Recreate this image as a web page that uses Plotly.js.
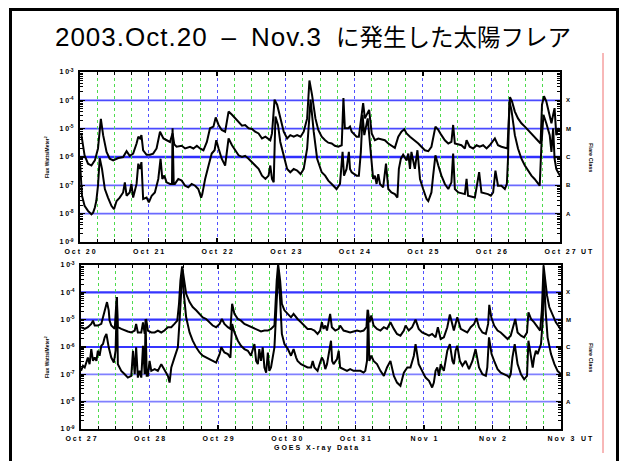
<!DOCTYPE html>
<html>
<head>
<meta charset="utf-8">
<script src="https://cdn.plot.ly/plotly-3.0.1.min.js"></script>
<style>html,body{margin:0;padding:0;background:#fff;}#chart{width:622px;height:461px;}</style>
</head>
<body>
<div id="chart"></div>
<script>
// ---------- labels ----------
const titleLatin = "2003.Oct.20\u2002–\u2002Nov.3";
const titleJapanese = "に発生した太陽フレア";
const dayLabels1 = ["Oct 20","Oct 21","Oct 22","Oct 23","Oct 24","Oct 25","Oct 26","Oct 27"];
const dayLabels2 = ["Oct 27","Oct 28","Oct 29","Oct 30","Oct 31","Nov 1","Nov 2","Nov 3"];
const dayHours = [0,24,48,72,96,120,144,168];
const decadeValues = [1e-9,1e-8,1e-7,1e-6,1e-5,1e-4,1e-3];
const decadeLabels = ["-9","-8","-7","-6","-5","-4","-3"];
const classNames = ["X","M","C","B","A"];
const classFlux = [1e-4,1e-5,1e-6,1e-7,1e-8];
const yTitle = "Flux Watts/Meter<sup>2</sup>";
const classTitle = "Flare Class";
const xTitle = "GOES X-ray Data";

// ---------- panel 1 (Oct 20 - Oct 27), hours from Oct 20 00UT ----------
const p1LongT = [0.5,1.6,2.8,4.0,5.2,6.3,7.3,8.1,9.3,10.4,11.6,13.4,15.1,16.3,17.4,18.6,19.8,20.4,21.0,21.5,22.1,23.3,24.5,25.6,26.8,28.0,29.2,30.3,31.5,32.4,33.0,33.8,35.6,36.8,38.5,39.7,40.9,42.0,43.2,44.4,45.5,46.7,47.5,48.5,49.6,50.8,52.0,53.2,54.3,55.5,56.7,57.8,59.0,60.2,61.3,62.5,63.7,64.9,66.0,66.6,67.2,68.1,69.0,70.1,71.3,72.5,73.6,74.8,76.0,77.2,78.3,79.5,80.3,81.2,82.4,83.4,
84.6,85.8,86.9,88.1,89.2,90.4,91.6,92.2,92.7,93.9,94.5,95.1,96.8,97.6,98.6,99.1,99.7,100.7,101.2,102.1,103.2,104.4,105.6,106.7,107.9,109.0,110.2,111.4,112.5,113.5,114.3,115.5,117.2,118.4,119.5,120.7,121.9,123.0,124.4,125.4,126.5,127.7,128.9,130.0,130.6,131.2,133.5,134.7,135.3,136.4,137.6,138.8,139.9,141.1,142.3,143.4,145.2,146.3,147.5,149.6,150.1,150.5,151.2,152.2,153.3,154.5,155.7,156.8,158.0,159.1,160.3,161.2,161.7,162.4,163.2,164.0,165.0,165.6,166.1,166.7,167.3,168.0];
const p1LongF = [5.9e-6,1.15e-6,5.8e-7,5.0e-7,7.6e-7,2.0e-6,2.2e-5,5.9e-6,1.51e-6,8.7e-7,7.6e-7,9.2e-7,1.0e-6,1.6e-6,1.1e-6,1.32e-6,3.0e-6,5.2e-6,4.5e-6,5.9e-6,1.73e-6,1.2e-6,1.2e-6,1.32e-6,2.0e-6,7.8e-6,4.5e-6,3.9e-6,3.4e-6,6.8e-6,2.8e-6,2.3e-6,2.5e-6,2.0e-6,2.3e-6,2.0e-6,2.5e-6,2.0e-6,1.73e-6,3.4e-6,1.03e-5,1.18e-5,2.5e-5,1.35e-5,9.0e-6,7.8e-6,4.0e-5,3.1e-5,2.3e-5,1.8e-5,1.28e-5,1.35e-5,1.03e-5,9.8e-6,7.8e-6,6.8e-6,4.5e-6,5.2e-6,4.5e-6,3.9e-6,6.8e-6,1.06e-4,7.0e-5,2.3e-5,7.8e-6,4.5e-6,5.9e-6,5.2e-6,5.9e-6,5.2e-6,7.8e-6,2.3e-5,5.0e-4,1.6e-4,2.3e-5,9.0e-6,
5.2e-6,3.9e-6,3.2e-6,3.0e-6,2.5e-6,2.3e-6,2.6e-6,1.2e-4,1.03e-5,1.03e-5,1.18e-5,7.8e-6,5.2e-6,5.2e-6,3.1e-5,8.0e-5,2.3e-5,4.0e-5,4.6e-5,6.8e-6,3.9e-6,4.5e-6,4.2e-6,3.9e-6,3.0e-6,2.6e-6,2.1e-6,5.2e-6,7.8e-6,9.5e-6,6.8e-6,5.2e-6,3.9e-6,3.0e-6,2.3e-6,1.73e-6,1.6e-6,2.3e-6,1.18e-5,9.0e-6,5.9e-6,3.9e-6,3.0e-6,3.4e-6,1.35e-5,3.0e-6,2.6e-6,2.0e-6,3.9e-6,2.3e-6,2.0e-6,2.6e-6,2.3e-6,2.6e-6,2.0e-6,2.6e-6,4.5e-6,2.6e-6,2.3e-6,2.0e-6,2.3e-5,1.3e-4,9.2e-5,4.0e-5,2.3e-5,1.55e-5,1.18e-5,9.0e-6,6.8e-6,5.2e-6,3.9e-6,3.0e-6,7.0e-5,1.4e-4,9.2e-5,4.0e-5,1.55e-5,3.1e-5,5.3e-5,5.9e-6,1.03e-5,7.8e-6];

const p1ShortT = [0.0,0.7,1.6,2.8,4.0,4.6,5.2,5.7,6.3,6.9,7.7,8.7,9.8,11.0,11.9,12.8,13.9,15.1,15.7,16.3,17.4,18.0,18.6,19.8,20.4,21.0,21.5,22.1,23.3,24.1,25.1,26.2,27.4,28.2,28.8,29.5,30.3,31.5,32.2,32.4,32.8,33.2,34.4,35.6,36.8,37.9,39.1,40.3,41.4,42.4,42.8,43.8,45.0,46.1,47.1,47.7,48.5,49.6,50.8,52.0,53.2,54.3,55.5,56.7,57.8,59.0,60.2,61.3,62.5,63.7,64.9,66.0,66.6,67.2,67.8,68.4,69.3,70.1,71.3,72.5,73.6,74.8,76.0,77.2,78.3,79.5,80.7,81.8,83.0,
84.6,85.8,86.9,88.1,89.2,89.8,91.0,91.9,92.4,93.3,94.1,94.5,95.1,96.8,97.6,98.3,98.9,99.5,100.7,101.5,102.1,102.6,103.2,103.8,104.4,105.0,106.1,107.1,107.9,109.0,110.2,111.1,111.6,112.3,113.1,114.3,114.9,115.5,116.0,117.2,118.1,119.0,120.1,121.3,121.9,123.0,123.6,124.4,125.4,126.5,127.7,128.9,130.0,130.6,131.2,132.4,134.7,135.3,135.8,138.2,139.7,140.5,142.8,143.8,144.6,145.4,146.3,147.5,148.7,149.4,149.8,150.3,151.0,152.2,153.3,154.5,155.7,156.8,158.0,159.1,160.3,160.9,161.5,162.2,163.2,164.4,165.0,165.6,166.1,166.7,167.3,168.0];
const p1ShortF = [6.6e-7,4.3e-8,1.9e-8,1.25e-8,9.5e-9,1.09e-8,1.64e-8,2.8e-8,9.7e-8,9.2e-7,3.8e-7,7.4e-8,3.7e-8,1.9e-8,1.43e-8,2.8e-8,3.7e-8,5.6e-8,1.28e-7,4.3e-8,5.6e-8,1.12e-7,3.7e-8,1.12e-7,5.8e-7,3.8e-7,6.6e-7,3.3e-8,3.7e-8,2.5e-8,4.3e-8,5.6e-8,1.68e-7,8.7e-7,1.68e-7,2.2e-7,1.28e-7,1.12e-7,1.12e-7,1.03e-5,1.12e-7,1.12e-7,1.68e-7,1.47e-7,9.7e-8,8.5e-8,1.12e-7,9.7e-8,7.4e-8,3.7e-8,4.9e-8,1.68e-7,5.0e-7,1.32e-6,1.73e-6,3.9e-6,2.0e-6,8.7e-7,5.0e-7,4.5e-6,2.6e-6,1.73e-6,1.15e-6,1.0e-6,1.1e-6,8.7e-7,6.6e-7,5.0e-7,3.8e-7,2.2e-7,1.68e-7,2.2e-7,5.0e-7,1.68e-7,1.28e-7,2.7e-5,1.35e-5,3.4e-6,1.15e-6,3.8e-7,2.9e-7,3.8e-7,3.3e-7,2.5e-7,3.8e-7,2.0e-6,1.06e-4,7.8e-6,8.7e-7,
2.9e-7,2.2e-7,1.47e-7,1.12e-7,8.5e-8,7.4e-8,1.12e-7,1.51e-6,2.2e-7,3.8e-7,1.51e-6,3.8e-7,2.9e-7,2.2e-7,2.2e-7,1.51e-6,3.1e-5,5.9e-6,2.3e-5,3.4e-6,5.0e-7,1.68e-7,2.2e-7,1.12e-7,2.5e-7,1.12e-7,8.5e-8,5.8e-7,7.4e-8,5.6e-8,4.9e-8,3.7e-8,3.8e-7,8.7e-7,1.2e-6,7.6e-7,1.32e-6,3.8e-7,1.51e-6,3.8e-7,1.73e-6,1.68e-7,7.4e-8,3.3e-8,2.8e-8,5.6e-8,2.2e-7,1.15e-6,5.0e-7,2.2e-7,1.12e-7,7.4e-8,1.28e-7,1.32e-6,7.4e-8,5.6e-8,4.9e-8,1.68e-7,4.3e-8,3.7e-8,2.9e-7,5.6e-8,4.9e-8,4.3e-8,5.6e-8,3.3e-7,9.7e-8,9.7e-8,7.4e-8,1.12e-7,8.7e-7,9.2e-5,4.6e-5,5.9e-6,2.0e-6,8.7e-7,5.0e-7,3.3e-7,2.2e-7,1.68e-7,1.12e-7,9.7e-8,2.6e-6,3.1e-5,1.55e-5,5.9e-6,1.51e-6,1.03e-5,8.7e-7,3.8e-7,2.9e-7,2.2e-7];

// ---------- panel 2 (Oct 27 - Nov 3), hours from Oct 27 00UT ----------
const p2LongT = [0,1.3,2.4,3.6,4.2,4.8,5.9,7.1,7.7,8.3,9.1,9.7,10.0,10.6,11.8,12.5,12.9,14.1,15.3,16.4,17.6,18.8,19.3,19.9,21.1,21.7,22.3,22.8,23.4,24.6,25.8,26.9,28.1,29.2,30.4,31.6,32.7,33.7,34.3,34.8,35.4,36.0,36.8,38.0,39.1,40.3,41.5,42.6,43.8,45.0,46.1,47.3,48.5,49.3,50.2,51.4,52.3,52.9,53.7,54.9,56.0,57.2,58.4,59.5,60.7,61.9,63.0,64.2,65.4,66.5,67.7,68.5,69.0,69.7,70.3,71.2,72.4,73.5,74.4,75.3,75.8,77.0,78.2,79.3,80.5,81.7,82.8,
83.7,84.3,84.9,85.5,86.1,87.2,87.8,89.0,90.2,90.7,91.9,93.1,94.2,95.4,96.6,97.8,98.9,99.9,100.3,101.0,101.6,102.4,103.6,104.8,106.0,107.1,108.3,109.5,110.6,111.8,113.0,113.6,114.7,115.9,117.1,118.2,119.4,120.6,121.8,122.9,124.1,124.9,125.9,127.0,128.2,129.1,130.0,130.5,131.7,132.9,134.0,135.2,136.4,137.6,138.4,139.3,140.5,141.7,142.5,142.9,143.6,144.6,145.8,146.9,148.1,149.3,150.4,152.0,152.8,154.0,155.1,156.1,156.6,157.5,158.6,159.8,160.7,161.3,161.9,162.5,163.1,163.9,165.1,166.2,167.4,168.0];
const p2LongF = [5.3e-6,4.6e-6,5.3e-6,7.0e-6,9.2e-6,6.1e-6,6.1e-6,7.0e-6,1.22e-5,2.2e-5,4.4e-5,2.2e-5,9.2e-6,6.1e-6,4.6e-6,6.7e-5,5.3e-6,4.6e-6,4.0e-6,3.7e-6,3.4e-6,4.0e-6,7.0e-6,3.4e-6,3.4e-6,8.0e-6,3.0e-6,1.06e-5,4.0e-6,3.4e-6,3.4e-6,4.0e-6,3.4e-6,4.0e-6,5.3e-6,5.3e-6,7.0e-6,9.2e-6,3.8e-5,2.7e-4,8.9e-4,2.7e-4,8.8e-5,4.4e-5,2.9e-5,2.2e-5,1.63e-5,1.22e-5,1.06e-5,8.0e-6,6.1e-6,5.3e-6,7.0e-6,1.06e-5,7.0e-6,5.3e-6,4.6e-6,3.8e-5,1.63e-5,1.06e-5,9.2e-6,7.0e-6,6.1e-6,5.3e-6,4.6e-6,4.0e-6,3.7e-6,4.0e-6,4.0e-6,4.6e-6,6.1e-6,2.7e-4,1.06e-3,2.7e-4,3.8e-5,2.2e-5,1.63e-5,1.22e-5,1.63e-5,1.22e-5,1.06e-5,8.0e-6,6.1e-6,4.6e-6,4.6e-6,4.0e-6,3.0e-6,
4.0e-6,8.0e-6,4.6e-6,6.1e-6,4.0e-6,1.63e-5,5.3e-6,4.0e-6,4.6e-6,6.1e-6,4.0e-6,3.7e-6,3.4e-6,3.7e-6,4.0e-6,3.7e-6,4.0e-6,5.3e-6,2.3e-5,8.0e-6,1.41e-5,6.1e-6,4.6e-6,4.0e-6,5.3e-6,4.6e-6,8.0e-6,4.6e-6,3.0e-6,2.6e-6,4.0e-6,6.1e-6,4.0e-6,5.3e-6,1.0e-5,4.6e-6,3.4e-6,3.0e-6,2.6e-6,3.0e-6,2.25e-6,5.3e-6,1.96e-6,2.25e-6,5.3e-6,1.55e-5,7.0e-6,4.0e-6,1.22e-5,4.6e-6,4.0e-6,3.4e-6,5.3e-6,7.0e-6,1.15e-5,5.3e-6,3.4e-6,3.0e-6,7.0e-6,3.5e-5,1.22e-5,6.1e-6,4.0e-6,3.4e-6,2.6e-6,1.96e-6,2.6e-6,1.06e-5,3.4e-6,2.6e-6,2.25e-6,3.4e-6,1.87e-5,1.06e-5,8.0e-6,5.3e-6,4.0e-6,2.2e-5,9.7e-4,2.7e-4,7.7e-5,2.9e-5,1.41e-5,8.0e-6,5.3e-6,4.0e-6];

const p2ShortT = [0,0.7,1.3,1.9,2.4,3.0,3.6,4.2,4.8,5.4,5.9,6.5,7.1,7.7,8.3,8.9,9.7,10.6,11.5,12.1,12.6,12.9,14.1,15.3,16.4,17.6,18.2,18.8,19.3,19.9,20.5,21.1,21.7,22.3,22.6,23.0,23.4,24.0,24.6,25.8,26.9,28.1,29.2,30.4,31.0,31.6,32.7,33.9,34.5,35.1,35.5,36.0,36.8,38.0,39.1,40.3,41.5,42.6,43.8,45.0,46.1,47.3,48.5,49.1,50.2,51.4,52.3,52.9,53.7,54.9,56.0,57.2,58.4,59.5,60.7,61.3,61.9,62.4,63.0,63.6,64.2,64.8,65.4,65.9,66.5,67.1,67.7,68.5,69.1,69.7,70.3,71.2,72.4,73.5,74.4,75.3,75.8,77.0,78.2,79.3,80.5,81.1,81.7,82.8,
83.7,84.3,84.9,85.5,86.1,87.0,87.5,87.9,88.4,89.6,90.2,90.7,91.9,93.1,94.2,95.4,96.6,97.8,98.9,99.5,100.1,100.5,100.9,101.6,102.4,103.6,104.8,106.0,107.1,108.3,109.5,110.6,111.8,112.4,113.0,114.2,115.3,116.5,117.1,118.2,119.4,120.6,121.8,122.9,123.5,124.1,124.7,125.3,125.9,127.0,128.2,129.1,130.0,130.5,131.1,131.7,132.6,133.5,134.6,135.8,137.0,138.1,139.3,140.5,141.7,142.2,142.8,143.7,144.6,145.8,146.9,148.1,149.3,149.9,150.4,151.0,151.8,152.8,154.0,155.1,156.1,156.6,157.5,158.1,158.6,159.2,159.8,160.4,161.0,161.6,162.0,162.6,163.3,164.5,165.7,166.8,168.0];
const p2ShortF = [1.34e-7,2.05e-7,1.78e-7,3.1e-7,4.1e-7,2.36e-7,8.4e-7,3.1e-7,4.1e-7,3.1e-7,7.3e-7,4.8e-7,1.11e-6,1.28e-6,2.25e-6,3.0e-6,9.7e-7,4.1e-7,2.7e-7,7.3e-7,6.7e-5,2.36e-7,1.34e-7,1.01e-7,7.6e-8,8.8e-8,7.3e-7,1.01e-7,9.7e-7,7.6e-8,1.34e-7,7.6e-8,1.11e-6,1.01e-7,1.06e-5,8.8e-8,8.8e-8,3.1e-7,1.34e-7,1.55e-7,1.34e-7,2.36e-7,1.55e-7,8.8e-8,5.0e-8,1.78e-7,4.1e-7,9.7e-7,9.2e-6,2.1e-4,7.3e-4,8.8e-5,1.22e-5,3.4e-6,1.70e-6,9.7e-7,6.3e-7,4.8e-7,4.1e-7,3.6e-7,3.1e-7,2.7e-7,5.5e-7,9.7e-7,6.3e-7,5.5e-7,4.1e-7,7.0e-6,3.4e-6,1.70e-6,1.11e-6,8.4e-7,7.3e-7,4.8e-7,1.28e-6,3.1e-7,2.36e-7,8.4e-7,3.1e-7,9.7e-7,1.78e-7,1.16e-7,6.3e-7,1.34e-7,1.78e-7,4.1e-7,9.7e-7,5.0e-5,6.6e-4,5.0e-5,3.0e-6,1.28e-6,8.4e-7,4.8e-7,8.4e-7,4.1e-7,3.1e-7,2.36e-7,2.05e-7,1.78e-7,1.78e-7,3.1e-7,1.78e-7,1.34e-7,
2.7e-7,4.1e-7,3.1e-7,1.55e-7,2.36e-7,7.3e-7,1.70e-6,3.1e-7,2.36e-7,3.6e-7,7.3e-7,1.78e-7,1.55e-7,1.34e-7,1.55e-7,1.34e-7,1.34e-7,1.34e-7,1.16e-7,1.34e-7,3.1e-7,2.2e-5,3.1e-7,4.8e-7,3.1e-7,2.36e-7,1.34e-7,8.8e-8,1.78e-7,3.1e-7,8.8e-8,5.0e-8,3.8e-8,6.6e-8,1.16e-7,1.78e-7,1.78e-7,4.8e-7,1.28e-6,2.36e-7,1.34e-7,7.6e-8,5.8e-8,3.3e-8,5.0e-8,1.34e-7,1.78e-7,8.8e-8,2.36e-7,1.34e-7,7.3e-7,1.28e-6,3.1e-7,2.36e-7,7.3e-7,1.11e-6,3.1e-7,2.05e-7,3.1e-7,1.55e-7,3.1e-7,8.4e-7,1.78e-7,1.01e-7,8.8e-8,1.78e-7,2.25e-6,5.5e-7,3.1e-7,1.55e-7,1.16e-7,1.01e-7,8.8e-8,7.6e-8,1.01e-7,4.1e-7,1.28e-6,2.36e-7,1.01e-7,6.6e-8,8.8e-8,1.70e-6,4.1e-7,1.78e-7,4.1e-7,7.3e-7,5.5e-7,8.4e-7,1.28e-6,9.2e-6,4.8e-4,2.2e-5,2.25e-6,5.5e-7,2.36e-7,1.34e-7,1.01e-7];

// ---------- helpers ----------
const W = 622, H = 461;
const px = v => v / W;
const py = v => 1 - v / H;
const spaced = s => s.split('').join(' ');
const smallFont = {family: 'Liberation Sans, Arial, sans-serif', size: 7, color: '#000', weight: 'bold'};

const minorY = [];
for (let d = -9; d < -3; d++) for (let m = 2; m <= 9; m++) minorY.push(m * Math.pow(10, d));

function xAxis(domain, anchor, labels) {
  return {
    domain: domain, anchor: anchor, range: [0, 168], fixedrange: true,
    tickmode: 'array', tickvals: dayHours, ticktext: labels.map(spaced),
    ticks: 'inside', ticklen: 4, tickwidth: 1.5, tickcolor: '#000',
    showline: true, linecolor: '#000', linewidth: 2, mirror: 'ticks',
    showgrid: true, gridcolor: '#5050ff', griddash: 'dot', gridwidth: 1,
    zeroline: false, tickfont: smallFont, ticklabelstandoff: 2,
    minor: {dtick: 6, tick0: 0, ticks: 'inside', ticklen: 3, tickcolor: '#000', tickwidth: 1,
            showgrid: true, gridcolor: '#4ddb4d', griddash: 'dot', gridwidth: 1}
  };
}
function yAxis(domain, anchor) {
  return {
    domain: domain, anchor: anchor, type: 'log', range: [-9, -3], fixedrange: true,
    tickmode: 'array', tickvals: decadeValues,
    ticktext: decadeLabels.map(e => '1 0<sup>' + e + '</sup>'),
    ticks: 'inside', ticklen: 5, tickwidth: 1.5, tickcolor: '#000',
    showline: true, linecolor: '#000', linewidth: 2, mirror: 'ticks',
    showgrid: false, zeroline: false, tickfont: smallFont, ticklabelstandoff: 3,
    minor: {tickvals: minorY, ticks: 'inside', ticklen: 3, tickcolor: '#000', tickwidth: 1, showgrid: false}
  };
}

const line = {color: '#000', width: 2};
const traces = [
  {x: p1LongT, y: p1LongF, xaxis: 'x', yaxis: 'y', mode: 'lines', line: line, hoverinfo: 'skip'},
  {x: p1ShortT, y: p1ShortF, xaxis: 'x', yaxis: 'y', mode: 'lines', line: line, hoverinfo: 'skip'},
  {x: p2LongT, y: p2LongF, xaxis: 'x2', yaxis: 'y2', mode: 'lines', line: line, hoverinfo: 'skip'},
  {x: p2ShortT, y: p2ShortF, xaxis: 'x2', yaxis: 'y2', mode: 'lines', line: line, hoverinfo: 'skip'}
];

const ann = [];
const tinyBold = s => ({family: 'Liberation Sans, Arial, sans-serif', size: s, color: '#000', weight: 'bold'});
[[157, 'y', 'x', 251], [357, 'y2', 'x2', 438]].forEach(([cy, yr, xr, uty]) => {
  ann.push({xref: 'paper', yref: 'paper', x: px(47), y: py(cy), text: yTitle, textangle: -90,
            showarrow: false, font: tinyBold(5), xanchor: 'center', yanchor: 'middle'});
  ann.push({xref: 'paper', yref: 'paper', x: px(591), y: py(cy), text: classTitle, textangle: 90,
            showarrow: false, font: tinyBold(5.5), xanchor: 'center', yanchor: 'middle'});
  ann.push({xref: 'paper', yref: 'paper', x: px(587), y: py(uty), text: 'U T',
            showarrow: false, font: tinyBold(7), xanchor: 'center', yanchor: 'middle'});
  classNames.forEach((c, i) => ann.push({xref: 'paper', yref: yr, x: px(568), y: Math.log10(classFlux[i]),
            text: c, showarrow: false, font: tinyBold(6), xanchor: 'center', yanchor: 'middle'}));
});
ann.push({xref: 'paper', yref: 'paper', x: px(316), y: py(448), text: spaced(xTitle),
          showarrow: false, font: tinyBold(7), xanchor: 'center', yanchor: 'middle'});

// horizontal class-level grid lines (strong / light as in the GOES plot), in paper pixels
const panelTop = [72, 265], panelBottom = [242, 429], panelLeft = [80, 81], panelRight = [560, 561];
const gridStyle = [
  [[1.6,'#4a4aff'],[1.6,'#4a4aff'],[2.6,'#2f2fff'],[1.6,'#6a6aff'],[1.6,'#6a6aff']],
  [[2.2,'#3535ff'],[2.2,'#3535ff'],[2.2,'#3535ff'],[1.6,'#8080ff'],[1.6,'#8080ff']]
];
const shapes = [];
[0, 1].forEach(p => {
  classFlux.forEach((v, i) => {
    const frac = (Math.log10(v) + 9) / 6;
    const yPix = panelBottom[p] - frac * (panelBottom[p] - panelTop[p]);
    shapes.push({type: 'line', layer: 'between', xref: 'paper', yref: 'paper',
                 x0: px(panelLeft[p]), x1: px(panelRight[p]), y0: py(yPix), y1: py(yPix),
                 line: {color: gridStyle[p][i][1], width: gridStyle[p][i][0]}});
  });
});
shapes.push(
  {type: 'line', xref: 'paper', yref: 'paper', x0: px(10.5), x1: px(10.5), y0: py(8), y1: py(461), line: {color: '#000', width: 3}},
  {type: 'line', xref: 'paper', yref: 'paper', x0: px(9), x1: px(619), y0: py(9.5), y1: py(9.5), line: {color: '#000', width: 3}},
  {type: 'line', xref: 'paper', yref: 'paper', x0: px(617.5), x1: px(617.5), y0: py(8), y1: py(461), line: {color: '#000', width: 3}},
  {type: 'line', xref: 'paper', yref: 'paper', x0: px(603), x1: px(603), y0: py(53), y1: py(453), line: {color: '#f07070', width: 1}}
);

const titleText = '<span style="font-family:Liberation Sans, Arial, sans-serif;font-size:26px;letter-spacing:1px">' +
                  titleLatin + '\u2002</span>' + titleJapanese;

const layout = {
  width: W, height: H, margin: {l: 0, r: 0, t: 0, b: 0},
  paper_bgcolor: '#fff', plot_bgcolor: 'rgba(0,0,0,0)', showlegend: false,
  title: {text: titleText, x: px(313), y: py(38), xanchor: 'center', yanchor: 'middle',
          font: {family: 'Noto Sans CJK JP, Liberation Sans, sans-serif', size: 23.5, color: '#000'}},
  xaxis: xAxis([px(80), px(560)], 'y', dayLabels1),
  yaxis: yAxis([py(242), py(72)], 'x'),
  xaxis2: xAxis([px(81), px(561)], 'y2', dayLabels2),
  yaxis2: yAxis([py(429), py(265)], 'x2'),
  annotations: ann, shapes: shapes
};

Plotly.newPlot('chart', traces, layout, {staticPlot: true, displayModeBar: false});
</script>
</body>
</html>
